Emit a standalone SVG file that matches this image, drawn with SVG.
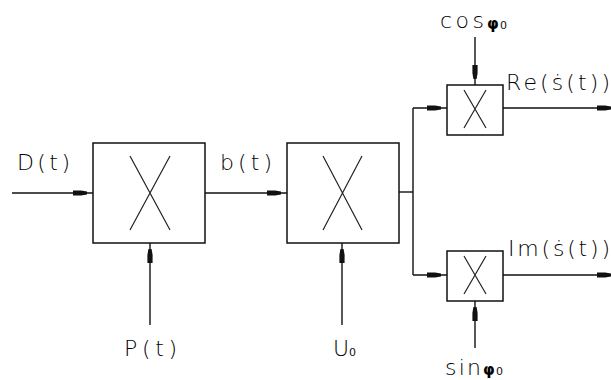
<svg xmlns="http://www.w3.org/2000/svg" width="611" height="380" viewBox="0 0 611 380">
<style>
.ln{fill:none;stroke:#111;stroke-width:1.4}
.bx{fill:#fff;stroke:#111;stroke-width:1.5}
.x{fill:none;stroke:#222;stroke-width:1.2}
.t{font-family:"DejaVu Sans","Liberation Sans",sans-serif;font-size:22px;fill:#000;font-weight:300}
.phi{font-family:"DejaVu Sans",sans-serif;font-weight:bold;font-size:15px;fill:#000}
.sub{font-family:"DejaVu Sans",sans-serif;font-size:11px;fill:#111}
</style>
<defs>
<marker id="ah" markerUnits="userSpaceOnUse" markerWidth="24" markerHeight="10" viewBox="0 -5 24 10" refX="20" refY="0" orient="auto">
<path d="M0,-2.6 L8,-2.6 L14,-1.6 L14,1.6 L8,2.6 L0,2.6 Z" fill="#111"/>
</marker>
</defs>
<rect width="611" height="380" fill="#fff"/>
<g id="connectors">
<line class="ln" x1="12" y1="193" x2="93" y2="193" marker-end="url(#ah)"/>
<line class="ln" x1="205" y1="193" x2="287" y2="193" marker-end="url(#ah)"/>
<line class="ln" x1="150" y1="325" x2="150" y2="243" marker-end="url(#ah)"/>
<line class="ln" x1="342" y1="325" x2="342" y2="243" marker-end="url(#ah)"/>
<polyline class="ln" points="399,192 413,192"/>
<polyline class="ln" points="413,108 413,275"/>
<line class="ln" x1="413" y1="108" x2="447" y2="108" marker-end="url(#ah)"/>
<line class="ln" x1="413" y1="275" x2="447" y2="275" marker-end="url(#ah)"/>
<line class="ln" x1="475" y1="37" x2="475" y2="85" marker-end="url(#ah)"/>
<line class="ln" x1="475" y1="348" x2="475" y2="301" marker-end="url(#ah)"/>
<line class="ln" x1="503" y1="108" x2="617" y2="108" marker-end="url(#ah)"/>
<line class="ln" x1="503" y1="275" x2="617" y2="275" marker-end="url(#ah)"/>
</g>
<g id="mult1">
<rect class="bx" x="93" y="143" width="112" height="100"/>
<path class="x" d="M130,156 L170,230 M170,156 L130,230"/>
</g>
<g id="mult2">
<rect class="bx" x="287" y="143" width="112" height="100"/>
<path class="x" d="M323,156 L362,230 M362,156 L323,230"/>
</g>
<g id="multRe">
<rect class="bx" x="447" y="85" width="56" height="50"/>
<path class="x" d="M464,90 L486,128 M486,90 L464,128"/>
</g>
<g id="multIm">
<rect class="bx" x="447" y="251" width="56" height="50"/>
<path class="x" d="M464,256 L486,294 M486,256 L464,294"/>
</g>
<g id="labels">
<text class="t" x="17" y="170" textLength="53" lengthAdjust="spacing">D(t)</text>
<text class="t" x="220" y="170" textLength="52" lengthAdjust="spacing">b(t)</text>
<text class="t" x="124" y="356" textLength="53" lengthAdjust="spacing">P(t)</text>
<text class="t" x="333" y="356">U</text>
<text class="sub" x="349" y="356">0</text>
<text class="t" x="440" y="28" textLength="44" lengthAdjust="spacing">cos</text>
<text class="phi" x="487" y="29">φ</text><text class="sub" x="500" y="29">0</text>
<text class="t" x="445" y="375" textLength="36" lengthAdjust="spacing">sin</text>
<text class="phi" x="483" y="375">φ</text><text class="sub" x="496" y="375">0</text>
<text class="t" x="506" y="90" textLength="104" lengthAdjust="spacing">Re(ṡ(t))</text>
<text class="t" x="508" y="256" textLength="102" lengthAdjust="spacing">Im(ṡ(t))</text>
</g>
</svg>
